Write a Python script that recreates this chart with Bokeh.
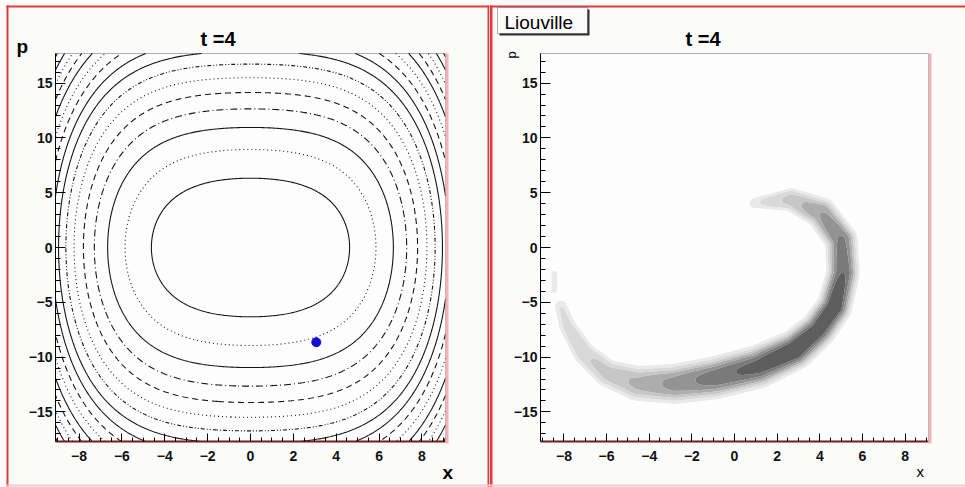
import numpy as np
from bokeh.plotting import figure
from bokeh.layouts import row
from bokeh.models import Label, BoxAnnotation, FixedTicker, Range1d, LinearAxis
from bokeh.embed import file_html
from bokeh.resources import INLINE

# ---------------------------------------------------------------- data
X_LIM = (-9.1, 9.1)
P_LIM = (-17.7, 17.7)
x_major = [-8, -6, -4, -2, 0, 2, 4, 6, 8]
p_major = [-15, -10, -5, 0, 5, 10, 15]

# energy H(x, p) = p^2/2 + K2*x^2 + K4*x^4 and the contour levels drawn
K2, K4 = 0.55, 0.018
energy_levels = [20, 40, 60, 80, 100, 120, 140, 160, 180, 200, 220, 240, 260, 280, 300, 320]
level_dash = ["solid", "1 3", "solid", "7 3 1 3", "6 4", "1 3", "4 2 1 2 1 2", "solid",
              "solid", "6 4", "1 3", "solid", "6 4", "1 3", "solid", "6 4"]

# test particle
particle_x = [3.07]
particle_p = [-8.64]

# phase-space density ridge: centre points, peak density, half-width scale (px)
spine_x = [0.94, 2.66, 4.07, 5.01, 5.09, 4.69, 3.91, 2.82, 1.10, -0.94, -2.82, -4.54, -5.94, -7.04, -7.82, -8.14]
spine_p = [4.06, 4.36, 3.15, 0.70, -2.34, -5.40, -7.53, -9.36, -10.89, -11.90, -12.45, -12.40, -11.50, -9.66, -7.23, -5.40]
spine_rho = [0.15, 0.35, 0.55, 0.70, 0.80, 0.95, 0.90, 0.95, 0.85, 0.75, 0.60, 0.45, 0.35, 0.28, 0.22, 0.18]
spine_sigma = [4.5, 8.0, 10.0, 10.0, 10.0, 10.5, 11.0, 12.0, 13.0, 13.0, 12.5, 11.5, 9.5, 8.0, 6.5, 5.0]
blob_x = [-8.45, -8.45]
blob_p = [-2.4, -3.9]
blob_rho = [0.16, 0.16]
blob_sigma = [2.5, 2.5]

density_levels = [0.08, 0.18, 0.30, 0.42, 0.55, 0.68, 0.80, 10.0]
density_colors = ["#e9e9e9", "#d9d9d9", "#c6c6c6", "#adadad", "#939393", "#7a7a7a", "#5e5e5e"]

FONT = "Liberation Sans"
H = 487
PAD_BG = "#fbfbfa"
FRAME_BG = "#fdfdfd"
RED = "#e23a3a"


class Pad:
    """A pad whose plotting area is the whole canvas; the data frame sits inside it."""

    def __init__(self, width, frame_box):
        l, t, r, b = frame_box
        self.sx = (r - l) / (X_LIM[1] - X_LIM[0])
        self.sy = (b - t) / (P_LIM[1] - P_LIM[0])
        self.x0 = X_LIM[0] - l / self.sx
        self.x1 = X_LIM[1] + (width - r) / self.sx
        self.y1 = P_LIM[1] + t / self.sy
        self.y0 = P_LIM[0] - (H - b) / self.sy
        self.fig = figure(width=width, height=H, x_range=Range1d(self.x0, self.x1),
                          y_range=Range1d(self.y0, self.y1),
                          output_backend="svg", toolbar_location=None,
                          x_axis_location=None, y_axis_location=None,
                          min_border_left=0, min_border_right=0, min_border_top=0, min_border_bottom=0,
                          background_fill_color=PAD_BG, border_fill_color=PAD_BG)
        self.fig.title_location = None
        self.fig.grid.visible = False
        self.fig.outline_line_color = None
        self._frame()
        self._axes()

    def dx(self, px):
        return self.x0 + px / self.sx

    def dy(self, py):
        return self.y1 - py / self.sy

    def box(self, l, t, r, b, color, level="annotation", line=None):
        self.fig.add_layout(BoxAnnotation(left=self.dx(l), right=self.dx(r),
                                          top=self.dy(t), bottom=self.dy(b),
                                          fill_color=color, fill_alpha=1.0 if color else 0.0,
                                          line_color=line, line_width=1, level=level))

    def text(self, px, py, text, size, bold=False, angle=0.0):
        self.fig.add_layout(Label(x=self.dx(px), y=self.dy(py), text=text, text_font=FONT,
                                  text_font_size=size, angle=angle,
                                  text_font_style="bold" if bold else "normal",
                                  text_align="left", text_baseline="alphabetic",
                                  text_color="black"))

    def _frame(self):
        self.fig.add_layout(BoxAnnotation(left=X_LIM[0], right=X_LIM[1], bottom=P_LIM[0], top=P_LIM[1],
                                          fill_color=FRAME_BG, fill_alpha=1.0,
                                          line_color="black", line_width=1, level="underlay"))

    def _axes(self):
        xa = LinearAxis(fixed_location=P_LIM[0], bounds=X_LIM,
                        ticker=FixedTicker(ticks=x_major, minor_ticks=list(np.arange(-9.0, 9.01, 0.5))))
        ya = LinearAxis(fixed_location=X_LIM[0], bounds=P_LIM,
                        ticker=FixedTicker(ticks=p_major, minor_ticks=list(range(-17, 18))))
        xa.major_label_overrides = {v: str(v).replace("-", "\u2212") for v in x_major}
        ya.major_label_overrides = {v: str(v).replace("-", "\u2212") for v in p_major}
        for ax in (xa, ya):
            ax.major_tick_out = 0
            ax.minor_tick_out = 0
            ax.major_tick_line_color = "black"
            ax.minor_tick_line_color = "black"
            ax.major_label_text_font = FONT
            ax.major_label_text_font_size = "14px"
            ax.major_label_text_font_style = "bold"
            ax.major_label_text_color = "#111111"
        xa.major_tick_in = 8
        xa.minor_tick_in = 4
        ya.major_tick_in = 10
        ya.minor_tick_in = 5
        xa.major_label_standoff = 9
        ya.major_label_standoff = 3
        xa.axis_line_color = "#7a1a1a"
        xa.axis_line_width = 2
        ya.axis_line_color = "black"
        self.fig.add_layout(xa, "below")
        self.fig.add_layout(ya, "left")


# ---------------------------------------------------------------- left pad: energy contours
L = Pad(489, (55, 53, 445, 441))
left = L.fig

xs = np.linspace(X_LIM[0], X_LIM[1], 301)
ps = np.linspace(P_LIM[0], P_LIM[1], 301)
XX, PP = np.meshgrid(xs, ps)
energy = PP ** 2 / 2 + K2 * XX ** 2 + K4 * XX ** 4
for lvl, dash in zip(energy_levels, level_dash):
    left.contour(xs, ps, energy, levels=[lvl], fill_color=None,
                 line_color="#161616", line_width=1.1, line_dash=dash)

left.scatter(particle_x, particle_p, size=9, fill_color="#1010d0", line_color="#1010d0")

L.box(445, 53, 448, 443, "#efb4b4")
L.box(6, 5, 8, H, RED)
L.box(6, 5, 489, 7, RED)
L.box(487, 5, 489, H, RED)
L.box(6, 484, 489, 486, "#f3c9c9")
L.text(200, 38, "t =4", "20px", bold=True)
L.text(16, 46, "p", "19px", bold=True)
L.text(442, 472, "x", "19px", bold=True)

# ---------------------------------------------------------------- right pad: Liouville density
R = Pad(476, (51, 53, 439, 441))
right = R.fig


def ridge_density(cx, cp, rho, sig, gx, gp):
    out = np.zeros_like(gx)
    for i in range(len(cx) - 1):
        ax_, ap_ = cx[i] * R.sx, cp[i] * R.sy
        bx_, bp_ = cx[i + 1] * R.sx, cp[i + 1] * R.sy
        vx, vp = bx_ - ax_, bp_ - ap_
        qx, qp = gx * R.sx - ax_, gp * R.sy - ap_
        t = np.clip((qx * vx + qp * vp) / (vx * vx + vp * vp), 0, 1)
        d = np.sqrt((qx - t * vx) ** 2 + (qp - t * vp) ** 2)
        r = rho[i] + t * (rho[i + 1] - rho[i])
        s = sig[i] + t * (sig[i + 1] - sig[i])
        out = np.maximum(out, r * np.exp(-0.5 * (d / s) ** 3))
    return out


gx_ = np.linspace(X_LIM[0], X_LIM[1], 364)
gp_ = np.linspace(P_LIM[0], P_LIM[1], 388)
GX, GP = np.meshgrid(gx_, gp_)
dens = np.maximum(ridge_density(spine_x, spine_p, spine_rho, spine_sigma, GX, GP),
                  ridge_density(blob_x, blob_p, blob_rho, blob_sigma, GX, GP))
right.contour(gx_, gp_, dens, levels=density_levels, fill_color=density_colors, line_color=None)

R.box(439, 53, 442, 443, "#efb4b4")
R.box(0, 5, 3, H, RED)
R.box(0, 5, 476, 7, RED)
R.box(0, 484, 476, 486, "#f3c9c9")
# "Liouville" pave with its shadow
R.box(10, 9, 100, 35, "#303030")
R.box(8, 7, 98, 33, "#fbfbfb", line="black")
R.text(15, 22, "Liouville", "19px")
R.text(196, 38, "t =4", "20px", bold=True)
R.text(22, 58, "p", "13px", angle=np.pi / 2)
R.text(427, 471, "x", "15px")

layout = row(left, right)
open("out.html", "w").write(file_html(layout, INLINE))
